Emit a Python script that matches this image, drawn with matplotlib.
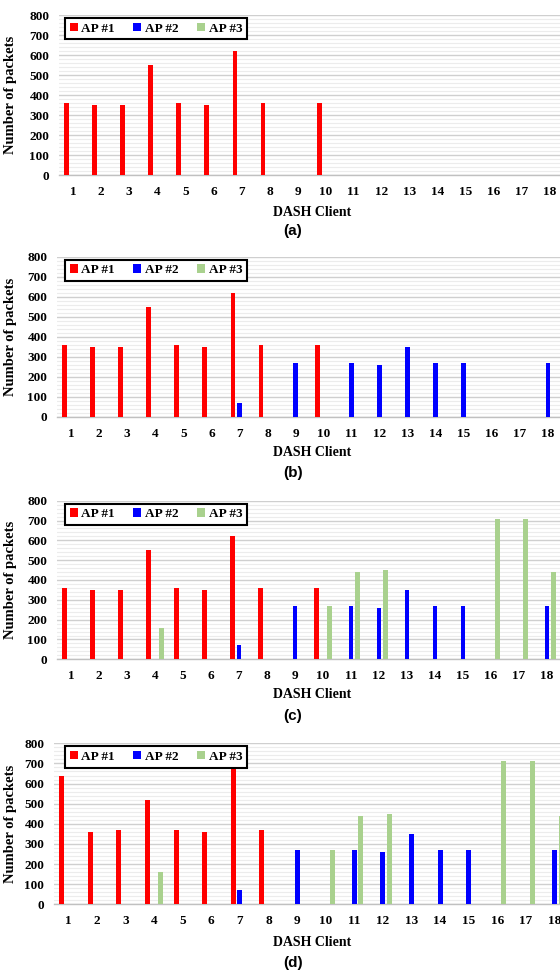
import matplotlib
matplotlib.use("Agg")
import matplotlib.pyplot as plt
import numpy as np
from matplotlib.ticker import MultipleLocator

clients = list(range(1, 19))
series_names = ["AP #1", "AP #2", "AP #3"]
series_colors = ["#FF0000", "#0000FF", "#A9D18E"]
panel_labels = ["(a)", "(b)", "(c)", "(d)"]
yticks = [0, 100, 200, 300, 400, 500, 600, 700, 800]

ap1_a = [360, 350, 350, 550, 360, 350, 620, 360, 0, 360, 0, 0, 0, 0, 0, 0, 0, 0]
ap2_a = [0] * 18
ap3_a = [0] * 18

ap1_b = [360, 350, 350, 550, 360, 350, 620, 360, 0, 360, 0, 0, 0, 0, 0, 0, 0, 0]
ap2_b = [0, 0, 0, 0, 0, 0, 70, 0, 270, 0, 270, 260, 350, 270, 270, 0, 0, 270]
ap3_b = [0] * 18

ap1_c = [360, 350, 350, 550, 360, 350, 620, 360, 0, 360, 0, 0, 0, 0, 0, 0, 0, 0]
ap2_c = [0, 0, 0, 0, 0, 0, 70, 0, 270, 0, 270, 260, 350, 270, 270, 0, 0, 270]
ap3_c = [0, 0, 0, 160, 0, 0, 0, 0, 0, 270, 440, 450, 0, 0, 0, 710, 710, 440]

ap1_d = [640, 360, 370, 520, 370, 360, 675, 370, 0, 0, 0, 0, 0, 0, 0, 0, 0, 0]
ap2_d = [0, 0, 0, 0, 0, 0, 70, 0, 270, 0, 270, 260, 350, 270, 270, 0, 0, 270]
ap3_d = [0, 0, 0, 160, 0, 0, 0, 0, 0, 270, 440, 450, 0, 0, 0, 710, 710, 440]

panels = [(ap1_a, ap2_a, ap3_a), (ap1_b, ap2_b, ap3_b),
          (ap1_c, ap2_c, ap3_c), (ap1_d, ap2_d, ap3_d)]

W, H = 560, 974
fig = plt.figure(figsize=(W / 100, H / 100), dpi=100)

# layout in pixels: left, top, bottom, category spacing, xlabel y, panel label y
layout = [
    (59, 15.0, 175.0, 28.06, 212, 231),
    (57, 256.7, 416.7, 28.06, 453, 473),
    (57, 500.7, 659.3, 28.0, 695, 716),
    (54, 743.3, 904.3, 28.6, 942, 963),
]

serif = ["Liberation Serif", "DejaVu Serif"]
offsets = [-0.23, 0.0, 0.23]
bw = 0.17

for (vals, (lp, tp, bp, sp, xly, ply), plab) in zip(panels, layout, panel_labels):
    ax = fig.add_axes([lp / W, 1 - bp / H, (W - lp) / W, (bp - tp) / H])
    x = np.array(clients, dtype=float)
    handles = []
    for s, (v, c, name) in enumerate(zip(vals, series_colors, series_names)):
        h = ax.bar(x + offsets[s], v, width=bw, color=c, label=name, zorder=3)
        handles.append(h)
    ax.set_xlim(0.5, 0.5 + (W - lp) / sp)
    ax.set_ylim(0, 800)
    ax.set_xticks(clients)
    ax.set_xticklabels([str(c) for c in clients], fontfamily=serif,
                       fontweight="bold", fontsize=9.5)
    ax.set_yticks(yticks)
    ax.set_yticklabels([str(t) for t in yticks], fontfamily=serif,
                       fontweight="bold", fontsize=9.5)
    ax.yaxis.set_minor_locator(MultipleLocator(20))
    ax.tick_params(axis="x", length=0, pad=8)
    ax.tick_params(axis="y", which="both", length=0, pad=7)
    ax.grid(axis="y", which="major", color="#cfcfcf", linewidth=1.0, zorder=0)
    ax.grid(axis="y", which="minor", color="#ececec", linewidth=0.8, zorder=0)
    ax.set_axisbelow(True)
    for side in ["top", "right", "left"]:
        ax.spines[side].set_visible(False)
    ax.spines["bottom"].set_color("#c0c0c0")
    ax.spines["bottom"].set_linewidth(1.0)
    ax.set_ylabel("Number of packets", fontfamily=serif, fontweight="bold",
                  fontsize=10.5)
    ax.yaxis.set_label_coords(-(lp - 17) / (W - lp), 0.5)
    axw = W - lp
    axh = bp - tp
    leg = ax.legend(handles=handles, loc="upper left",
                    bbox_to_anchor=((65 - lp) / axw, 1 - 26 / axh, 182 / axw, 23 / axh),
                    mode="expand", ncol=3, frameon=True, fancybox=False,
                    handlelength=0.6, handleheight=0.6, handletextpad=0.3,
                    columnspacing=0.8, borderpad=0.35, borderaxespad=0,
                    framealpha=1.0,
                    prop={"family": serif, "weight": "bold", "size": 9.5})
    leg.get_frame().set_edgecolor("black")
    leg.get_frame().set_linewidth(1.5)
    leg.set_zorder(5)
    fig.text(312 / W, 1 - xly / H, "DASH Client", ha="center", va="center",
             fontfamily=serif, fontweight="bold", fontsize=10)
    fig.text(293 / W, 1 - ply / H, plab, ha="center", va="center",
             fontfamily=["Liberation Sans", "DejaVu Sans"], fontweight="bold",
             fontsize=11)

fig.savefig("out.png", dpi=100, facecolor="white")
